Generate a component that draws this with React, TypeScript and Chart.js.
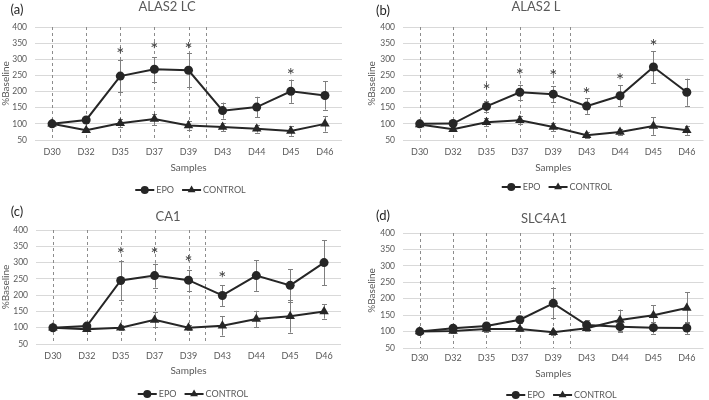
import React, { useEffect, useRef } from 'react';
import { Chart, registerables } from 'chart.js';

Chart.register(...registerables);

// ---------- data ----------
const days = ['D30', 'D32', 'D35', 'D37', 'D39', 'D43', 'D44', 'D45', 'D46'];
const markedDays = ['D30', 'D32', 'D35', 'D37', 'D39'];
const phaseBreak = ['D39', 'D43'];
const yMin = 50;
const yMax = 400;
const yStep = 50;
const seriesNames = ['EPO', 'CONTROL'];
const yTitle = '%Baseline';
const xTitle = 'Samples';

// (a) ALAS2 LC
const epoA = [100, 112, 248, 269, 266, 141, 152, 201, 188];
const epoErrA = [6, 8, 50, 38, 52, 25, 32, 36, 44];
const ctlA = [100, 80, 102, 115, 95, 90, 85, 78, 100];
const ctlErrA = [5, 6, 12, 17, 13, 12, 12, 15, 24];
const starA = [null, null, 331, 347, 347, null, null, 266, null];

// (b) ALAS2 L
const epoB = [100, 101, 154, 198, 192, 155, 187, 276, 198];
const epoErrB = [6, 6, 16, 23, 24, 24, 33, 49, 42];
const ctlB = [98, 83, 105, 111, 90, 65, 75, 93, 80];
const ctlErrB = [5, 6, 12, 12, 12, 9, 10, 27, 14];
const starB = [null, null, 220, 266, 261, 207, 248, 354, null];

// (c) CA1
const epoC = [100, 105, 245, 260, 246, 199, 260, 230, 300];
const epoErrC = [5, 8, 60, 37, 32, 32, 47, 50, 69];
const ctlC = [100, 95, 100, 124, 100, 106, 127, 135, 150];
const ctlErrC = [5, 6, 8, 23, 8, 30, 25, 50, 22];
const starC = [null, null, 341, 341, 316, 267, null, null, null];

// (d) SLC4A1
const epoD = [100, 110, 117, 136, 186, 120, 115, 112, 111];
const epoErrD = [4, 6, 6, 10, 46, 14, 15, 18, 19];
const ctlD = [100, 102, 108, 108, 98, 110, 135, 150, 172];
const ctlErrD = [4, 5, 8, 6, 8, 8, 32, 30, 47];
const starD = [null, null, null, null, null, null, null, null, null];

// ---------- styles / layout ----------
const FONT = 'Lato';
const TEXT = '#595959';
const LINE = '#262626';
const GRID = '#d9d9d9';
const DASH = '#8c8c8c';
const ERR = '#7f7f7f';

type Panel = {
  tag: string;
  title: string;
  epo: number[];
  epoErr: number[];
  ctl: number[];
  ctlErr: number[];
  stars: (number | null)[];
  box: { left: number; top: number; w: number; h: number };
  area: { left: number; right: number; top: number; xh: number; bottom: number };
  yTitlePad: number;
  xTickPad: number;
  titlePos: [number, number];
  tagPos: [number, number];
  legend: [number, number];
};

const panels: Panel[] = [
  {
    tag: '(a)', title: 'ALAS2 LC', epo: epoA, epoErr: epoErrA, ctl: ctlA, ctlErr: ctlErrA, stars: starA,
    box: { left: 0, top: 0, w: 354, h: 200 },
    area: { left: 35, right: 12, top: 27, xh: 34, bottom: 26 },
    yTitlePad: 0, xTickPad: 7, titlePos: [167, 7], tagPos: [17, 10], legend: [190.5, 190],
  },
  {
    tag: '(b)', title: 'ALAS2 L', epo: epoB, epoErr: epoErrB, ctl: ctlB, ctlErr: ctlErrB, stars: starB,
    box: { left: 354, top: 0, w: 355, h: 200 },
    area: { left: 49, right: 1, top: 27, xh: 34, bottom: 26 },
    yTitlePad: 12, xTickPad: 7, titlePos: [182, 7], tagPos: [29, 11], legend: [203, 187],
  },
  {
    tag: '(c)', title: 'CA1', epo: epoC, epoErr: epoErrC, ctl: ctlC, ctlErr: ctlErrC, stars: starC,
    box: { left: 0, top: 200, w: 354, h: 200 },
    area: { left: 36, right: 13, top: 30, xh: 33, bottom: 23 },
    yTitlePad: 0, xTickPad: 7, titlePos: [168, 17], tagPos: [17, 12], legend: [193, 194],
  },
  {
    tag: '(d)', title: 'SLC4A1', epo: epoD, epoErr: epoErrD, ctl: ctlD, ctlErr: ctlErrD, stars: starD,
    box: { left: 354, top: 200, w: 355, h: 200 },
    area: { left: 49, right: 2, top: 33, xh: 32, bottom: 20 },
    yTitlePad: 12, xTickPad: 5, titlePos: [190, 19], tagPos: [29, 16], legend: [207.5, 195],
  },
];

function drawMarker(ctx: CanvasRenderingContext2D, style: string, x: number, y: number, r: number) {
  ctx.beginPath();
  if (style === 'circle') {
    ctx.arc(x, y, r, 0, Math.PI * 2);
  } else {
    let rad = 0;
    for (let i = 0; i < 3; i++) {
      const px = x + Math.sin(rad) * r;
      const py = y - Math.cos(rad) * r;
      if (i === 0) ctx.moveTo(px, py);
      else ctx.lineTo(px, py);
      rad += (2 * Math.PI) / 3;
    }
    ctx.closePath();
  }
  ctx.fill();
}

function makeChart(canvas: HTMLCanvasElement, p: Panel) {
  const errs = [p.epoErr, p.ctlErr];
  const styles = ['circle', 'triangle'];
  const radii = [4.5, 5.5];

  const decor = {
    id: 'decor',
    beforeDatasetsDraw(chart: any) {
      const { ctx, scales } = chart;
      const x = scales.x;
      const y = scales.y;
      const top = y.getPixelForValue(yMax);
      const bottom = y.getPixelForValue(yMin);
      ctx.save();
      // dashed sampling lines
      ctx.strokeStyle = DASH;
      ctx.lineWidth = 1;
      ctx.setLineDash([3, 3]);
      const xs = markedDays.map((d) => x.getPixelForValue(days.indexOf(d)));
      xs.push((x.getPixelForValue(days.indexOf(phaseBreak[0])) + x.getPixelForValue(days.indexOf(phaseBreak[1]))) / 2);
      xs.forEach((px: number) => {
        ctx.beginPath();
        ctx.moveTo(Math.round(px) + 0.5, top);
        ctx.lineTo(Math.round(px) + 0.5, bottom);
        ctx.stroke();
      });
      ctx.setLineDash([]);
      // error bars
      ctx.strokeStyle = ERR;
      chart.data.datasets.forEach((ds: any, di: number) => {
        ds.data.forEach((v: number, i: number) => {
          const e = errs[di][i];
          const px = Math.round(x.getPixelForValue(i)) + 0.5;
          const y1 = y.getPixelForValue(v + e);
          const y2 = y.getPixelForValue(v - e);
          ctx.beginPath();
          ctx.moveTo(px, y1);
          ctx.lineTo(px, y2);
          ctx.moveTo(px - 2.5, Math.round(y1) + 0.5);
          ctx.lineTo(px + 2.5, Math.round(y1) + 0.5);
          ctx.moveTo(px - 2.5, Math.round(y2) + 0.5);
          ctx.lineTo(px + 2.5, Math.round(y2) + 0.5);
          ctx.stroke();
        });
      });
      ctx.restore();
    },
    afterDraw(chart: any) {
      const { ctx, scales } = chart;
      const x = scales.x;
      const y = scales.y;
      ctx.save();
      // title
      ctx.fillStyle = TEXT;
      ctx.textAlign = 'center';
      ctx.textBaseline = 'middle';
      ctx.font = `13px ${FONT}`;
      ctx.fillText(p.title, p.titlePos[0], p.titlePos[1]);
      // panel tag
      ctx.fillStyle = '#262626';
      ctx.font = `13px ${FONT}`;
      ctx.fillText(p.tag, p.tagPos[0], p.tagPos[1]);
      // significance stars
      ctx.fillStyle = '#404040';
      const starSize = 19;
      ctx.font = `${starSize}px ${FONT}`;
      ctx.textBaseline = 'alphabetic';
      p.stars.forEach((s, i) => {
        if (s == null) return;
        ctx.fillText('*', x.getPixelForValue(i), y.getPixelForValue(s) + starSize * 0.6);
      });
      // legend
      ctx.font = `9px ${FONT}`;
      ctx.textBaseline = 'middle';
      ctx.textAlign = 'left';
      const lineLen = 19;
      const gapT = 2;
      const gapItem = 8;
      const widths = seriesNames.map((n) => ctx.measureText(n).width);
      const total = widths.reduce((a, b) => a + b, 0) + seriesNames.length * (lineLen + gapT) + gapItem * (seriesNames.length - 1);
      let lx = p.legend[0] - total / 2;
      const ly = p.legend[1];
      seriesNames.forEach((n, i) => {
        ctx.strokeStyle = LINE;
        ctx.lineWidth = 2;
        ctx.beginPath();
        ctx.moveTo(lx, ly);
        ctx.lineTo(lx + lineLen, ly);
        ctx.stroke();
        ctx.fillStyle = LINE;
        drawMarker(ctx, styles[i], lx + lineLen / 2, ly, i === 0 ? 4 : 4.5);
        ctx.fillStyle = TEXT;
        ctx.fillText(n, lx + lineLen + gapT, ly + 0.5);
        lx += lineLen + gapT + widths[i] + gapItem;
      });
      ctx.restore();
    },
  };

  return new Chart(canvas, {
    type: 'line',
    data: {
      labels: days,
      datasets: [
        {
          label: seriesNames[0], data: p.epo, borderColor: LINE, backgroundColor: LINE, borderWidth: 2,
          pointStyle: 'circle', pointRadius: radii[0], pointBorderWidth: 0, tension: 0,
        },
        {
          label: seriesNames[1], data: p.ctl, borderColor: LINE, backgroundColor: LINE, borderWidth: 2,
          pointStyle: 'triangle', pointRadius: radii[1], pointBorderWidth: 0, tension: 0,
        },
      ],
    },
    options: {
      responsive: false,
      animation: false,
      devicePixelRatio: 1,
      layout: { padding: { left: 0, right: p.area.right, top: p.area.top, bottom: p.area.bottom } },
      plugins: { legend: { display: false }, title: { display: false }, tooltip: { enabled: false } },
      scales: {
        x: {
          type: 'category',
          offset: true,
          grid: { display: false, drawTicks: false },
          border: { display: false },
          ticks: { color: TEXT, font: { family: FONT, size: 9 }, padding: p.xTickPad, maxRotation: 0, autoSkip: false },
          title: { display: true, text: xTitle, color: TEXT, font: { family: FONT, size: 10 }, padding: 0 },
          afterFit: (s: any) => { s.height = p.area.xh; },
        },
        y: {
          min: yMin,
          max: yMax,
          grid: { color: GRID, lineWidth: 1, drawTicks: false },
          border: { display: false },
          ticks: { stepSize: yStep, color: TEXT, font: { family: FONT, size: 8.5 }, padding: 8 },
          title: { display: true, text: yTitle, color: TEXT, font: { family: FONT, size: 10 }, padding: { top: p.yTitlePad, bottom: 0 } },
          afterFit: (s: any) => { s.width = p.area.left; },
        },
      },
    },
    plugins: [decor],
  });
}

function PanelChart({ p }: { p: Panel }) {
  const ref = useRef<HTMLCanvasElement>(null);
  useEffect(() => {
    if (!ref.current) return;
    const c = makeChart(ref.current, p);
    return () => c.destroy();
  }, [p]);
  return (
    <canvas
      ref={ref}
      width={p.box.w}
      height={p.box.h}
      style={{ position: 'absolute', left: p.box.left, top: p.box.top, width: p.box.w, height: p.box.h }}
    />
  );
}

export default function App() {
  return (
    <div style={{ position: 'fixed', left: 0, top: 0, width: 709, height: 400, background: '#fff', overflow: 'hidden' }}>
      {panels.map((p) => (
        <PanelChart key={p.tag} p={p} />
      ))}
    </div>
  );
}
